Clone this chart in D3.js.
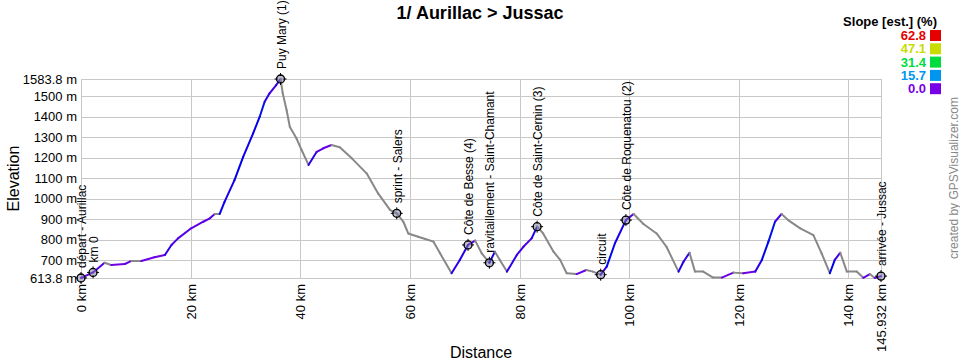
<!DOCTYPE html>
<html lang="en">
<head>
<meta charset="utf-8">
<title>1/ Aurillac > Jussac</title>
<script src="https://d3js.org/d3.v7.min.js"></script>
<style>
body {
  margin: 0;
  background: #ffffff;
  font-family: "Liberation Sans", Arial, sans-serif;
}
.grid line {
  stroke: #c8c8c8;
  shape-rendering: crispEdges;
}
.tick-label {
  font-size: 13px;
  fill: #000;
}
.wpt-label {
  font-size: 12px;
  fill: #000;
}
</style>
</head>
<body>
<svg width="960" height="360"></svg>
<script>

// profile: distance (km) and elevation (m)
var dist = [0, 2.2, 4.3, 5.5, 8.0, 9.2, 11.0, 13.4, 15.3, 16.5, 17.7, 20.1, 22.3, 23.5, 24.4, 25.3,
  26.2, 28.0, 29.6, 31.4, 32.6, 33.5, 34.4, 35.6, 36.4, 36.8, 37.5, 38.1, 39.3, 40.2, 41.5,
  43.0, 44.2, 45.7, 47.2, 49.4, 52.1, 54.2, 56.4, 57.6, 58.8, 59.7, 61.5, 62.8, 64.3, 65.5,
  67.6, 69.1, 70.6, 71.9, 73.1, 74.5, 75.5, 76.4, 77.7, 79.5, 80.7, 82.2, 83.2, 84.3, 86.2,
  87.4, 88.6, 90.4, 92.2, 93.4, 94.8, 95.9, 97.4, 99.4, 100.8, 102.6, 105.0, 106.8, 109.0,
  109.9, 111.0, 112.0, 113.5, 115.3, 116.9, 119.0, 120.8, 123.0, 124.2, 125.4, 126.6, 127.8,
  129.0, 131.2, 133.6, 135.1, 136.6, 137.5, 138.5, 139.7, 141.5, 142.7, 143.9, 144.8, 145.932];
var elev = [613.8, 641, 688, 677, 682, 697, 697, 715, 726, 775, 807, 856, 888, 905, 926, 926,
  986, 1091, 1205, 1319, 1400, 1473, 1514, 1554, 1583.8, 1514, 1433, 1350, 1295, 1240, 1165,
  1229, 1246, 1262, 1251, 1197, 1124, 1026, 945, 929, 888, 831, 815, 804, 791, 734,
  637, 702, 775, 796, 734, 688, 742, 702, 645, 726, 766, 807, 864, 831, 742,
  702, 637, 633, 653, 645, 630, 669, 783, 896, 926, 877, 831, 766, 645,
  693, 737, 645, 645, 616, 616, 640, 637, 645, 702, 791, 888, 926,
  896, 856, 823, 734, 637, 702, 737, 645, 645, 615, 633, 614, 623];

// waypoints
var wptNames = ["départ - Aurillac", "km 0", "Puy Mary (1)", "sprint - Salers", "Côte de Besse (4)",
  "ravitaillement - Saint-Chamant", "Côte de Saint-Cernin (3)", "circuit", "Côte de Roquenatou (2)",
  "arrivée - Jussac"];
var wptDist = [0, 2.2, 36.4, 57.6, 70.6, 74.5, 83.2, 94.8, 99.4, 145.932];

// axes
var yTicks = [613.8, 700, 800, 900, 1000, 1100, 1200, 1300, 1400, 1500, 1583.8];
var xTicks = [0, 20, 40, 60, 80, 100, 120, 140, 145.932];

// slope legend
var slopeStops = [62.8, 47.1, 31.4, 15.7, 0.0];
var slopeColors = ["#e60000", "#c8dc00", "#00dc3c", "#0096f0", "#7800e6"];

var svg = d3.select("svg");
var plotLeft = 81, plotRight = 881, plotTop = 79, plotBottom = 278;

var x = d3.scaleLinear().domain([0, 145.932]).range([plotLeft, plotRight]);
var y = d3.scaleLinear().domain([613.8, 1583.8]).range([plotBottom, plotTop]);
var slopeColor = d3.scaleLinear().domain(slopeStops).range(slopeColors)
    .interpolate(d3.interpolateHsl).clamp(true);

// title
svg.append("text")
    .attr("x", 480).attr("y", 19)
    .attr("text-anchor", "middle")
    .style("font-size", "18px").style("font-weight", "bold")
    .text("1/ Aurillac > Jussac");

// grid
var grid = svg.append("g").attr("class", "grid");
grid.selectAll(".h").data(yTicks).enter().append("line")
    .attr("x1", plotLeft).attr("x2", plotRight)
    .attr("y1", function(d) { return Math.round(y(d)) + 0.5; })
    .attr("y2", function(d) { return Math.round(y(d)) + 0.5; });
grid.selectAll(".v").data(xTicks).enter().append("line")
    .attr("y1", plotTop).attr("y2", plotBottom)
    .attr("x1", function(d) { return Math.round(x(d)) + 0.5; })
    .attr("x2", function(d) { return Math.round(x(d)) + 0.5; });

// y labels
svg.selectAll(".ylab").data(yTicks).enter().append("text")
    .attr("class", "tick-label")
    .attr("x", 77)
    .attr("y", function(d) { return y(d); })
    .attr("dy", "0.35em")
    .attr("text-anchor", "end")
    .text(function(d) { return d + " m"; });

// x labels
svg.selectAll(".xlab").data(xTicks).enter().append("text")
    .attr("class", "tick-label")
    .attr("transform", function(d) { return "translate(" + (x(d) + 5) + ",284) rotate(-90)"; })
    .attr("text-anchor", "end")
    .text(function(d) { return d + " km"; });

svg.append("text")
    .attr("transform", "translate(19," + ((plotTop + plotBottom) / 2) + ") rotate(-90)")
    .attr("text-anchor", "middle")
    .style("font-size", "16px")
    .text("Elevation");

svg.append("text")
    .attr("x", (plotLeft + plotRight) / 2).attr("y", 358)
    .attr("text-anchor", "middle")
    .style("font-size", "16px")
    .text("Distance");

// profile, each segment coloured by slope, descents grey
var segs = d3.range(dist.length - 1).map(function(i) {
  var s = (elev[i + 1] - elev[i]) / ((dist[i + 1] - dist[i]) * 10);
  return {i: i, slope: s};
});

svg.append("g").selectAll("line").data(segs).enter().append("line")
    .attr("x1", function(d) { return x(dist[d.i]); })
    .attr("y1", function(d) { return y(elev[d.i]); })
    .attr("x2", function(d) { return x(dist[d.i + 1]); })
    .attr("y2", function(d) { return y(elev[d.i + 1]); })
    .style("stroke", function(d) { return d.slope <= 0 ? "#888888" : slopeColor(d.slope); })
    .style("stroke-width", 2)
    .style("stroke-linecap", "round");

// waypoints
var elevAt = function(km) {
  var j = d3.bisectLeft(dist, km);
  if (j <= 0) return elev[0];
  if (j >= dist.length) return elev[elev.length - 1];
  var t = (km - dist[j - 1]) / (dist[j] - dist[j - 1]);
  return elev[j - 1] + t * (elev[j] - elev[j - 1]);
};

var wpt = svg.append("g").selectAll("g").data(wptNames).enter().append("g")
    .attr("transform", function(d, i) {
      return "translate(" + x(wptDist[i]) + "," + y(elevAt(wptDist[i])) + ")";
    });

wpt.append("circle")
    .attr("r", 4)
    .style("fill", "rgba(120,120,160,0.5)")
    .style("stroke", "#000")
    .style("stroke-width", 1.3);

wpt.selectAll("line").data([[0, -1], [0, 1], [-1, 0], [1, 0]]).enter().append("line")
    .attr("x1", function(d) { return d[0] * 3; })
    .attr("y1", function(d) { return d[1] * 3; })
    .attr("x2", function(d) { return d[0] * 6; })
    .attr("y2", function(d) { return d[1] * 6; })
    .style("stroke", "#000")
    .style("stroke-width", 1);

wpt.append("text")
    .attr("class", "wpt-label")
    .attr("transform", "translate(5,-10) rotate(-90)")
    .text(function(d) { return d; });

// slope legend
svg.append("text")
    .attr("x", 937).attr("y", 26)
    .attr("text-anchor", "end")
    .style("font-size", "13px").style("font-weight", "bold")
    .text("Slope [est.] (%)");

var leg = svg.append("g").selectAll("g").data(slopeStops).enter().append("g")
    .attr("transform", function(d, i) { return "translate(0," + (35.5 + i * 13.3) + ")"; });

leg.append("rect")
    .attr("x", 930).attr("y", -5.5)
    .attr("width", 11).attr("height", 11)
    .style("fill", function(d, i) { return slopeColors[i]; });

leg.append("text")
    .attr("x", 926).attr("dy", "0.36em")
    .attr("text-anchor", "end")
    .style("font-size", "13px").style("font-weight", "bold")
    .style("fill", function(d, i) { return slopeColors[i]; })
    .text(function(d) { return d.toFixed(1); });

// credit
svg.append("text")
    .attr("transform", "translate(958,178) rotate(-90)")
    .attr("text-anchor", "middle")
    .style("font-size", "12px")
    .style("fill", "#888")
    .text("created by GPSVisualizer.com");

</script>
</body>
</html>
